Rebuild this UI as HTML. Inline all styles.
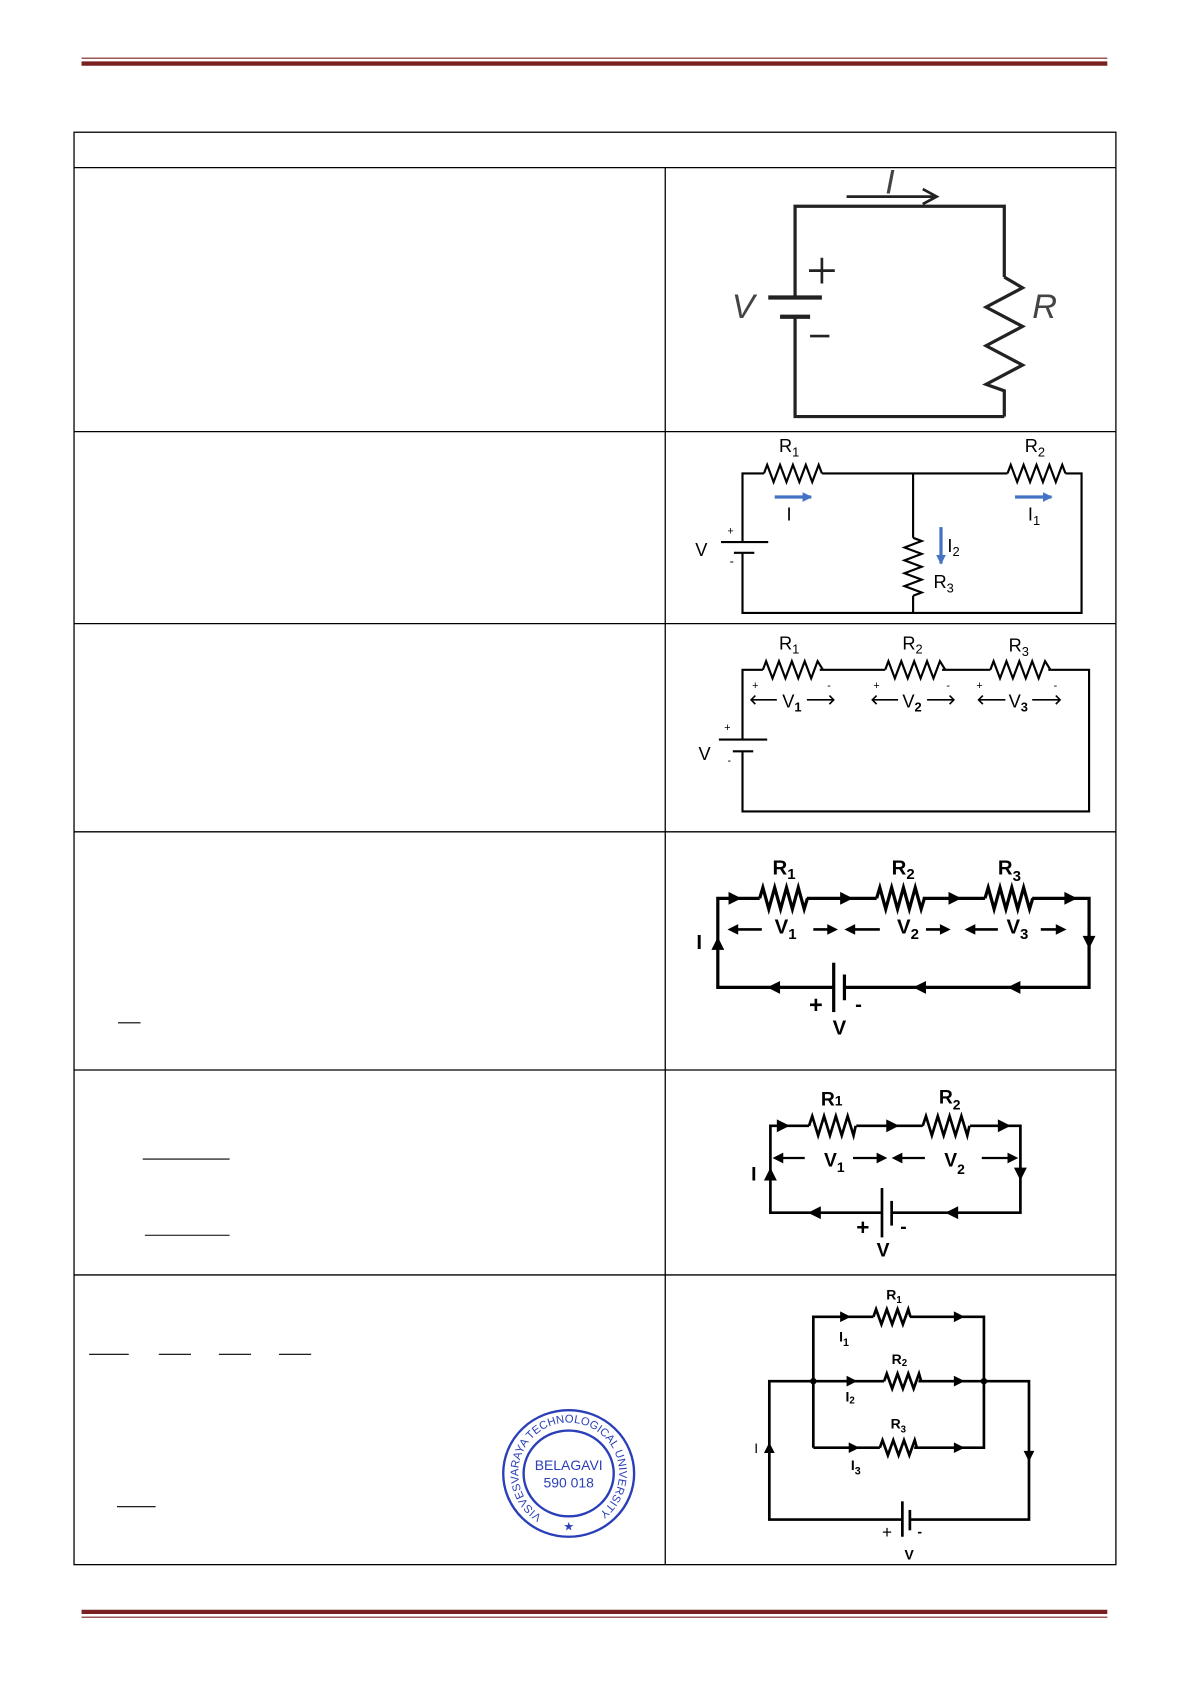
<!DOCTYPE html>
<html><head><meta charset="utf-8"><style>
html,body{margin:0;padding:0;background:#fff}
svg{display:block}
text{font-family:"Liberation Sans",sans-serif}
</style></head><body>
<svg width="1191" height="1684" viewBox="0 0 1110 1569" xmlns="http://www.w3.org/2000/svg">
<defs>
<marker id="ab" markerWidth="9" markerHeight="9" refX="8" refY="4.5" orient="auto" markerUnits="userSpaceOnUse"><path d="M0,0 L9,4.5 L0,9 z" fill="#4472c4"/></marker>
<path id="stTop" d="M506,1413 A47,47 0 1 1 554,1413"/>
</defs>
<!-- header/footer rules -->
<line x1="76" y1="54" x2="1032" y2="54" stroke="#7a2020" stroke-width="1"/>
<line x1="76" y1="59" x2="1032" y2="59" stroke="#7a2020" stroke-width="4"/>
<line x1="76" y1="1502" x2="1032" y2="1502" stroke="#7a2020" stroke-width="4"/>
<line x1="76" y1="1507" x2="1032" y2="1507" stroke="#7a2020" stroke-width="1"/>
<!-- table -->
<g stroke="#000" stroke-width="1.2" fill="none">
<rect x="69" y="123" width="971" height="1335"/>
<line x1="69" y1="156" x2="1040" y2="156"/>
<line x1="620" y1="156" x2="620" y2="1458"/>
<line x1="69" y1="402" x2="1040" y2="402"/>
<line x1="69" y1="581" x2="1040" y2="581"/>
<line x1="69" y1="775" x2="1040" y2="775"/>
<line x1="69" y1="997" x2="1040" y2="997"/>
<line x1="69" y1="1188" x2="1040" y2="1188"/>
</g>
<!-- left column fraction bars -->
<g stroke="#000" stroke-width="1">
<line x1="110" y1="953" x2="131" y2="953"/>
<line x1="133" y1="1080" x2="214" y2="1080"/>
<line x1="135" y1="1151" x2="214" y2="1151"/>
<line x1="83" y1="1262" x2="120" y2="1262"/>
<line x1="148" y1="1262" x2="178" y2="1262"/>
<line x1="204" y1="1262" x2="234" y2="1262"/>
<line x1="260" y1="1262" x2="290" y2="1262"/>
<line x1="109" y1="1404" x2="145" y2="1404"/>
</g>
<!-- stamp -->
<g fill="none" stroke="#2a3fb8" stroke-width="2.2">
<ellipse cx="530" cy="1373" rx="61" ry="59"/>
<ellipse cx="530" cy="1373" rx="42" ry="40"/>
</g>
<g fill="#2a3fb8" font-size="10.5">
<text textLength="238" lengthAdjust="spacing"><textPath href="#stTop" startOffset="1">VISVESVARAYA TECHNOLOGICAL UNIVERSITY</textPath></text>
<text x="530" y="1370" text-anchor="middle" font-size="13">BELAGAVI</text>
<text x="530" y="1386" text-anchor="middle" font-size="13">590 018</text>
<text x="530" y="1426" text-anchor="middle" font-size="11">★</text>
</g>

<!-- Circuit 1 -->
<g stroke="#222" stroke-width="3" fill="none">
<polyline points="741,277 741,192 936,192 936,258"/>
<path d="M936,258 l17,10 l-34,18 l34,18 l-34,18 l34,18 l-34,18 l17,6 l0,24"/>
<polyline points="936,388 741,388 741,295"/>
<line x1="716" y1="277" x2="766" y2="277" stroke-width="4"/>
<line x1="727" y1="295" x2="755" y2="295" stroke-width="4"/>
<line x1="789" y1="183" x2="870" y2="183" stroke-width="2.5"/>
<path d="M860,176 L873,183 L860,190" stroke-width="2.5"/>
<line x1="754" y1="252" x2="778" y2="252" stroke-width="2.5"/>
<line x1="766" y1="240" x2="766" y2="264" stroke-width="2.5"/>
<line x1="755" y1="313" x2="773" y2="313" stroke-width="2.5"/>
</g>
<g font-family="Liberation Serif,serif" font-style="italic" font-size="32" fill="#444">
<text x="825" y="180">I</text>
<text x="682" y="296">V</text>
<text x="962" y="296">R</text>
</g>

<!-- Circuit 2 -->
<g stroke="#000" stroke-width="2" fill="none">
<polyline points="692,505 692,441 712,441"/>
<path d="M712,441 l3,-8 l6,16 l6,-16 l6,16 l6,-16 l6,16 l6,-16 l6,16 l6,-16 l3,8"/>
<polyline points="766,441 939,441"/>
<path d="M939,441 l3,-8 l6,16 l6,-16 l6,16 l6,-16 l6,16 l6,-16 l6,16 l6,-16 l3,8"/>
<polyline points="993,441 1008,441 1008,571 692,571 692,515"/>
<line x1="851" y1="441" x2="851" y2="501"/>
<path d="M851,501 l8,3 l-16,6 l16,6 l-16,6 l16,6 l-16,6 l16,6 l-16,6 l16,6 l-8,3"/>
<line x1="851" y1="555" x2="851" y2="571"/>
<line x1="672" y1="505" x2="716" y2="505"/>
<line x1="684" y1="515" x2="703" y2="515"/>
</g>
<g stroke="#4472c4" stroke-width="3">
<line x1="722" y1="463" x2="756" y2="463" marker-end="url(#ab)"/>
<line x1="946" y1="463" x2="980" y2="463" marker-end="url(#ab)"/>
<line x1="877" y1="491" x2="877" y2="525" marker-end="url(#ab)"/>
</g>
<g font-size="17" fill="#000">
<text x="726" y="421">R<tspan font-size="12" dy="4">1</tspan></text>
<text x="955" y="421">R<tspan font-size="12" dy="4">2</tspan></text>
<text x="733" y="485">I</text>
<text x="958" y="485">I<tspan font-size="12" dy="4">1</tspan></text>
<text x="883" y="514">I<tspan font-size="12" dy="4">2</tspan></text>
<text x="870" y="548">R<tspan font-size="12" dy="4">3</tspan></text>
<text x="648" y="518">V</text>
<text x="678" y="498" font-size="10">+</text>
<text x="680" y="527" font-size="12">-</text>
</g>

<!-- Circuit 3 -->
<g stroke="#000" stroke-width="2" fill="none">
<polyline points="692,689 692,624 711,624"/>
<path d="M711,624 l3,-8 l6,16 l6,-16 l6,16 l6,-16 l6,16 l6,-16 l6,16 l6,-16 l5,8"/>
<line x1="764" y1="624" x2="825" y2="624"/>
<path d="M825,624 l3,-8 l6,16 l6,-16 l6,16 l6,-16 l6,16 l6,-16 l6,16 l6,-16 l5,8"/>
<line x1="878" y1="624" x2="923" y2="624"/>
<path d="M923,624 l3,-8 l6,16 l6,-16 l6,16 l6,-16 l6,16 l6,-16 l6,16 l6,-16 l5,8"/>
<polyline points="977,624 1015,624 1015,756 692,756 692,700"/>
<line x1="670" y1="689" x2="715" y2="689"/>
<line x1="683" y1="700" x2="702" y2="700"/>
<g stroke-width="1.5">
<path d="M700,652 h24 M752,652 h25 M704,648 l-4,4 l4,4 M773,648 l4,4 l-4,4"/>
<path d="M813,652 h24 M864,652 h25 M817,648 l-4,4 l4,4 M885,648 l4,4 l-4,4"/>
<path d="M912,652 h25 M962,652 h26 M916,648 l-4,4 l4,4 M984,648 l4,4 l-4,4"/>
</g>
</g>
<g font-size="17" fill="#000">
<text x="726" y="605">R<tspan font-size="12" dy="4">1</tspan></text>
<text x="841" y="605">R<tspan font-size="12" dy="4">2</tspan></text>
<text x="940" y="607">R<tspan font-size="12" dy="4">3</tspan></text>
<text x="729" y="659">V<tspan font-size="12" dy="4" font-weight="bold">1</tspan></text>
<text x="841" y="659">V<tspan font-size="12" dy="4" font-weight="bold">2</tspan></text>
<text x="940" y="659">V<tspan font-size="12" dy="4" font-weight="bold">3</tspan></text>
<text x="651" y="708">V</text>
<g font-size="10"><text x="701" y="642">+</text><text x="814" y="642">+</text><text x="910" y="642">+</text><text x="675" y="681">+</text>
<text x="771" y="642">-</text><text x="882" y="642">-</text><text x="982" y="642">-</text><text x="678" y="712">-</text></g>
</g>

<!-- Circuit 4 -->
<g stroke="#000" stroke-width="3" fill="none">
<polyline points="777,920 669,920 669,837 708,837"/>
<path d="M708,837 l3,-10 l5.5,20 l5.5,-20 l5.5,20 l5.5,-20 l5.5,20 l5.5,-20 l5.5,20 l3,-10"/>
<line x1="752" y1="837" x2="817" y2="837"/>
<path d="M817,837 l3,-10 l5.5,20 l5.5,-20 l5.5,20 l5.5,-20 l5.5,20 l5.5,-20 l5.5,20 l3,-10"/>
<line x1="860" y1="837" x2="918" y2="837"/>
<path d="M918,837 l3,-10 l5.5,20 l5.5,-20 l5.5,20 l5.5,-20 l5.5,20 l5.5,-20 l5.5,20 l3,-10"/>
<polyline points="962,837 1015,837 1015,920 787,920"/>
<line x1="777" y1="897" x2="777" y2="943"/>
<line x1="787" y1="908" x2="787" y2="932"/>
</g>
<g fill="#000">
<path d="M679,831 l12,6 l-12,6z M783,831 l12,6 l-12,6z M884,831 l12,6 l-12,6z M992,831 l12,6 l-12,6z"/>
<path d="M727,914 l-12,6 l12,6z M863,914 l-12,6 l12,6z M951,914 l-12,6 l12,6z"/>
<path d="M663,885 l6,-12 l6,12z M1009,872 l6,12 l6,-12z"/>
</g>
<g stroke="#000" stroke-width="2.5">
<line x1="684" y1="866" x2="710" y2="866"/><line x1="758" y1="866" x2="775" y2="866"/>
<line x1="793" y1="866" x2="820" y2="866"/><line x1="863" y1="866" x2="880" y2="866"/>
<line x1="905" y1="866" x2="930" y2="866"/><line x1="970" y1="866" x2="988" y2="866"/>
</g>
<g fill="#000"><path d="M678,866 l10,-5 v10z M781,866 l-10,-5 v10z M787,866 l10,-5 v10z M886,866 l-10,-5 v10z M899,866 l10,-5 v10z M994,866 l-10,-5 v10z"/></g>
<g font-size="19" font-weight="bold" fill="#000">
<text x="720" y="815">R<tspan font-size="14" dy="4">1</tspan></text>
<text x="831" y="815">R<tspan font-size="14" dy="4">2</tspan></text>
<text x="930" y="815">R<tspan font-size="14" dy="6">3</tspan></text>
<text x="722" y="870">V<tspan font-size="14" dy="5">1</tspan></text>
<text x="836" y="870">V<tspan font-size="14" dy="5">2</tspan></text>
<text x="938" y="870">V<tspan font-size="14" dy="5">3</tspan></text>
<text x="649" y="884">I</text>
<text x="754" y="944" font-size="22">+</text>
<text x="797" y="942">-</text>
<text x="776" y="964">V</text>
</g>

<!-- Circuit 5 -->
<g stroke="#000" stroke-width="2.5" fill="none">
<polyline points="822,1130 718,1130 718,1049 754,1049"/>
<path d="M754,1049 l3,-9 l5.5,18 l5.5,-18 l5.5,18 l5.5,-18 l5.5,18 l5.5,-18 l5.5,18 l2,-9"/>
<line x1="798" y1="1049" x2="860" y2="1049"/>
<path d="M860,1049 l3,-9 l5.5,18 l5.5,-18 l5.5,18 l5.5,-18 l5.5,18 l5.5,-18 l5.5,18 l2,-9"/>
<polyline points="904,1049 951,1049 951,1130 831,1130"/>
<line x1="822" y1="1107" x2="822" y2="1153"/>
<line x1="831" y1="1119" x2="831" y2="1142"/>
</g>
<g fill="#000">
<path d="M724,1043 l12,6 l-12,6z M826,1043 l12,6 l-12,6z M930,1043 l12,6 l-12,6z"/>
<path d="M765,1124 l-12,6 l12,6z M893,1124 l-12,6 l12,6z"/>
<path d="M712,1100 l6,-12 l6,12z M945,1088 l6,12 l6,-12z"/>
<path d="M720,1079 l10,-5 v10z M827,1079 l-10,-5 v10z M831,1079 l10,-5 v10z M949,1079 l-10,-5 v10z"/>
</g>
<g stroke="#000" stroke-width="2">
<line x1="728" y1="1079" x2="750" y2="1079"/><line x1="795" y1="1079" x2="818" y2="1079"/>
<line x1="840" y1="1079" x2="862" y2="1079"/><line x1="915" y1="1079" x2="940" y2="1079"/>
</g>
<g font-size="18" font-weight="bold" fill="#000">
<text x="765" y="1030">R<tspan font-size="13" dy="0">1</tspan></text>
<text x="875" y="1028">R<tspan font-size="13" dy="6">2</tspan></text>
<text x="768" y="1087">V<tspan font-size="13" dy="5">1</tspan></text>
<text x="880" y="1087">V<tspan font-size="13" dy="7">2</tspan></text>
<text x="700" y="1100">I</text>
<text x="798" y="1151" font-size="21">+</text>
<text x="839" y="1149">-</text>
<text x="817" y="1171">V</text>
</g>

<!-- Circuit 6 -->
<g stroke="#000" stroke-width="2.5" fill="none">
<polyline points="841,1416 717,1416 717,1287 758,1287"/>
<polyline points="848,1416 959,1416 959,1287 917,1287"/>
<polyline points="758,1349 758,1227 814,1227"/>
<path d="M814,1227 l2.5,-7 l5,14 l5,-14 l5,14 l5,-14 l5,14 l5,-14 l2,7"/>
<polyline points="848,1227 917,1227 917,1349 852,1349"/>
<polyline points="820,1349 758,1349"/>
<path d="M820,1349 l2.5,-7 l5,14 l5,-14 l5,14 l5,-14 l5,14 l5,-14 l2,7"/>
<line x1="758" y1="1287" x2="824" y2="1287"/>
<path d="M824,1287 l2.5,-7 l5,14 l5,-14 l5,14 l5,-14 l5,14 l5,-14 l2,7"/>
<line x1="856" y1="1287" x2="917" y2="1287"/>
<line x1="841" y1="1399" x2="841" y2="1432"/>
<line x1="848" y1="1407" x2="848" y2="1426"/>
</g>
<g fill="#000">
<circle cx="758" cy="1287" r="3"/><circle cx="917" cy="1287" r="3"/>
<path d="M783,1222 l10,5 l-10,5z M889,1222 l10,5 l-10,5z M789,1282 l10,5 l-10,5z M889,1282 l10,5 l-10,5z M791,1344 l10,5 l-10,5z M889,1344 l10,5 l-10,5z"/>
<path d="M712,1354 l5,-10 l5,10z M954,1352 l5,10 l5,-10z"/>
</g>
<g font-size="13" font-weight="bold" fill="#000">
<text x="826" y="1211">R<tspan font-size="9" dy="3">1</tspan></text>
<text x="782" y="1250">I<tspan font-size="10" dy="4">1</tspan></text>
<text x="831" y="1271">R<tspan font-size="9" dy="2">2</tspan></text>
<text x="788" y="1306">I<tspan font-size="9" dy="2">2</tspan></text>
<text x="830" y="1331">R<tspan font-size="9" dy="4">3</tspan></text>
<text x="793" y="1370">I<tspan font-size="10" dy="4">3</tspan></text>
<text x="703" y="1354" font-weight="normal">I</text>
<text x="822" y="1433" font-weight="normal" font-size="16">+</text>
<text x="855" y="1432">-</text>
<text x="843" y="1453">V</text>
</g>
</svg>
</body></html>
